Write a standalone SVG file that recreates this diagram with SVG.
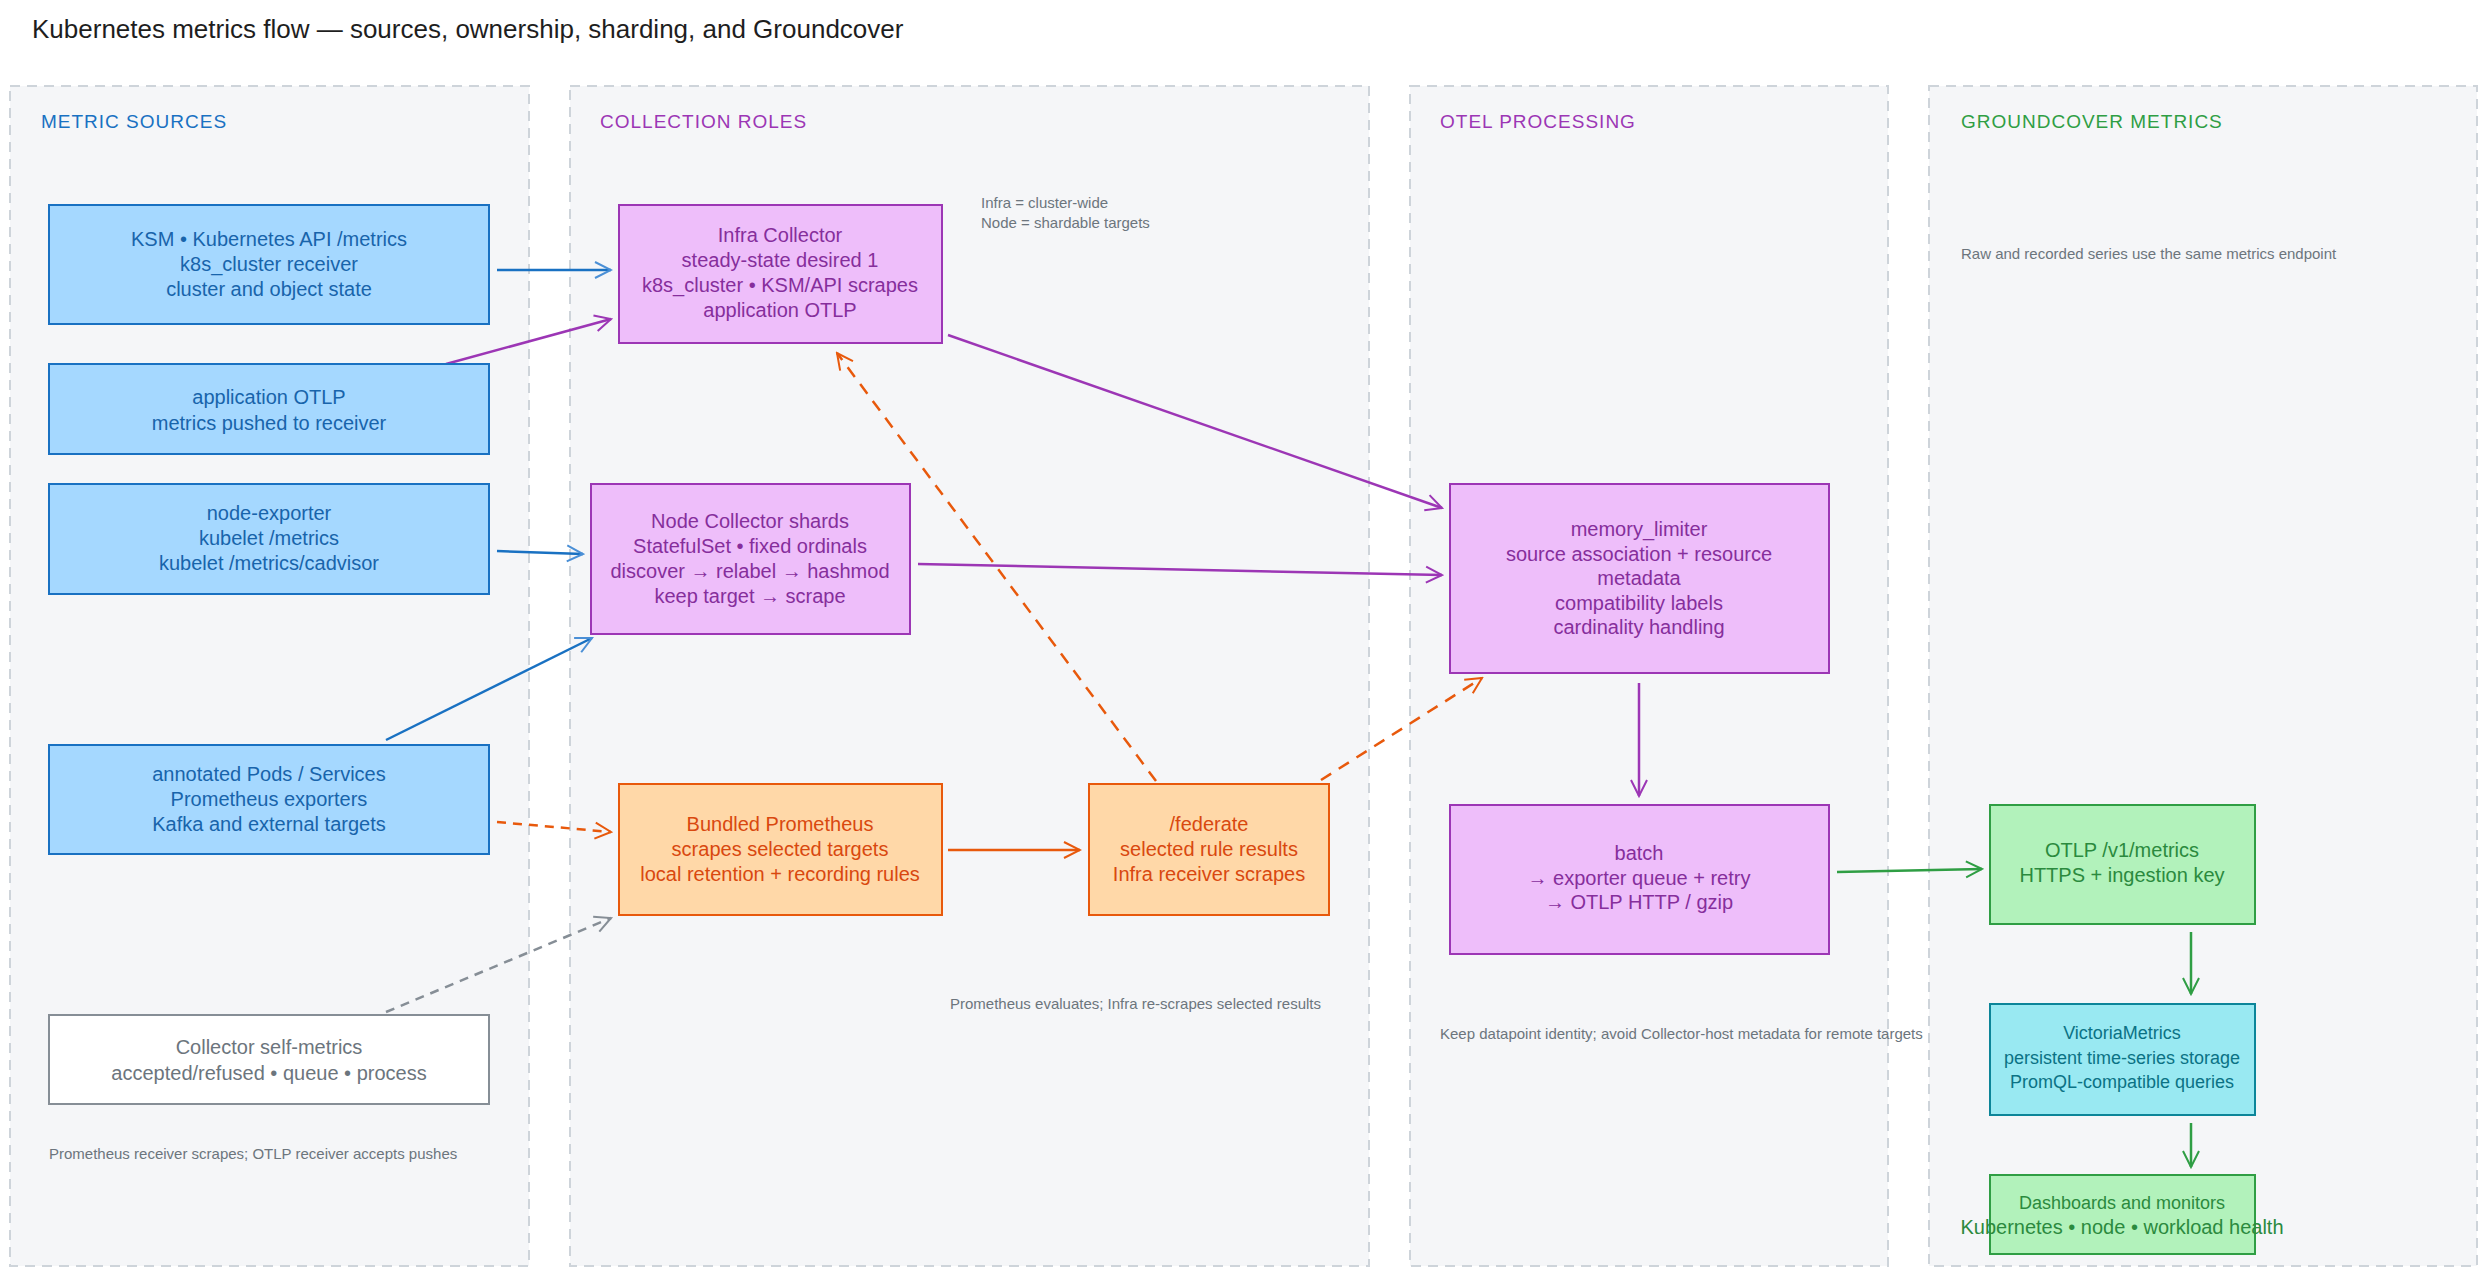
<svg xmlns="http://www.w3.org/2000/svg" width="2490" height="1275" viewBox="0 0 2490 1275">
<style>
text{font-family:"Liberation Sans",Arial,sans-serif}
.lane{fill:#f5f6f8;stroke:#ced4da;stroke-width:2;stroke-dasharray:10 7}
.lt{font-size:19px;letter-spacing:1px}
.nt{font-size:20px;text-anchor:middle}
.sm{font-size:18px}
.note{font-size:15px;fill:#6c757d}
.b rect{fill:#a5d8ff;stroke:#1971c2;stroke-width:2}.b text{fill:#1864ab}
.p rect{fill:#eebefa;stroke:#9c36b5;stroke-width:2}.p text{fill:#862e9c}
.o rect{fill:#ffd8a8;stroke:#e8590c;stroke-width:2}.o text{fill:#d9480f}
.g rect{fill:#b2f2bb;stroke:#2f9e44;stroke-width:2}.g text{fill:#2b8a3e}
.c rect{fill:#99e9f2;stroke:#0c8599;stroke-width:2}.c text{fill:#0b7285}
.w rect{fill:#fff;stroke:#868e96;stroke-width:2}.w text{fill:#6c757d}
#edges path{fill:none;stroke-width:2.5}
</style>
<defs>
<marker id="mb" viewBox="0 0 20 20" refX="18" refY="10" markerWidth="20" markerHeight="20" markerUnits="userSpaceOnUse" orient="auto"><path d="M2 2L18 10L2 18" fill="none" stroke="#4a8fd6" stroke-width="2"/></marker>
<marker id="mp" viewBox="0 0 20 20" refX="18" refY="10" markerWidth="20" markerHeight="20" markerUnits="userSpaceOnUse" orient="auto"><path d="M2 2L18 10L2 18" fill="none" stroke="#9c36b5" stroke-width="2"/></marker>
<marker id="mo" viewBox="0 0 20 20" refX="18" refY="10" markerWidth="20" markerHeight="20" markerUnits="userSpaceOnUse" orient="auto"><path d="M2 2L18 10L2 18" fill="none" stroke="#e8590c" stroke-width="2"/></marker>
<marker id="mgr" viewBox="0 0 20 20" refX="18" refY="10" markerWidth="20" markerHeight="20" markerUnits="userSpaceOnUse" orient="auto"><path d="M2 2L18 10L2 18" fill="none" stroke="#868e96" stroke-width="2"/></marker>
<marker id="mg" viewBox="0 0 20 20" refX="18" refY="10" markerWidth="20" markerHeight="20" markerUnits="userSpaceOnUse" orient="auto"><path d="M2 2L18 10L2 18" fill="none" stroke="#2f9e44" stroke-width="2"/></marker>
</defs>
<rect width="2490" height="1275" fill="#fff"/>
<text x="32" y="38" font-size="26" fill="#1e1e1e">Kubernetes metrics flow — sources, ownership, sharding, and Groundcover</text>

<g id="lanes">
<rect class="lane" x="10" y="86" width="519" height="1180"/>
<rect class="lane" x="570" y="86" width="799" height="1180"/>
<rect class="lane" x="1410" y="86" width="478" height="1180"/>
<rect class="lane" x="1929" y="86" width="548" height="1180"/>
<text class="lt" x="41" y="128" fill="#1971c2">METRIC SOURCES</text>
<text class="lt" x="600" y="128" fill="#9c36b5">COLLECTION ROLES</text>
<text class="lt" x="1440" y="128" fill="#9c36b5">OTEL PROCESSING</text>
<text class="lt" x="1961" y="128" fill="#2f9e44">GROUNDCOVER METRICS</text>
</g>

<g id="notes">
<text class="note" x="981" y="208">Infra = cluster-wide</text>
<text class="note" x="981" y="228">Node = shardable targets</text>
<text class="note" x="1961" y="259">Raw and recorded series use the same metrics endpoint</text>
<text class="note" x="950" y="1009">Prometheus evaluates; Infra re-scrapes selected results</text>
<text class="note" x="1440" y="1039">Keep datapoint identity; avoid Collector-host metadata for remote targets</text>
<text class="note" x="49" y="1159">Prometheus receiver scrapes; OTLP receiver accepts pushes</text>
</g>

<g id="edges">
<path d="M497 270L611 270" stroke="#1971c2" marker-end="url(#mb)"/>
<path d="M446 364L611 319" stroke="#9c36b5" marker-end="url(#mp)"/>
<path d="M497 551L583 554" stroke="#1971c2" marker-end="url(#mb)"/>
<path d="M386 740L592 638" stroke="#1971c2" marker-end="url(#mb)"/>
<path d="M497 822L611 832" stroke="#e8590c" stroke-dasharray="9 7" marker-end="url(#mo)"/>
<path d="M386 1012L611 918" stroke="#868e96" stroke-dasharray="9 7" marker-end="url(#mgr)"/>
<path d="M948 850L1080 850" stroke="#e8590c" marker-end="url(#mo)"/>
<path d="M1156 781L837 353" stroke="#e8590c" stroke-dasharray="12 9" marker-end="url(#mo)"/>
<path d="M1321 780L1482 678" stroke="#e8590c" stroke-dasharray="12 9" marker-end="url(#mo)"/>
<path d="M948 335L1442 508" stroke="#9c36b5" marker-end="url(#mp)"/>
<path d="M918 564L1442 575" stroke="#9c36b5" marker-end="url(#mp)"/>
<path d="M1639 683L1639 796" stroke="#9c36b5" marker-end="url(#mp)"/>
<path d="M1837 872L1982 869" stroke="#2f9e44" marker-end="url(#mg)"/>
<path d="M2191 932L2191 994" stroke="#2f9e44" marker-end="url(#mg)"/>
<path d="M2191 1123L2191 1167" stroke="#2f9e44" marker-end="url(#mg)"/>
</g>

<g id="ksm" class="b"><rect x="49" y="205" width="440" height="119"/>
<text class="nt" x="269" y="246">KSM • Kubernetes API /metrics</text><text class="nt" x="269" y="271">k8s_cluster receiver</text><text class="nt" x="269" y="296">cluster and object state</text></g>
<g id="appotlp" class="b"><rect x="49" y="364" width="440" height="90"/>
<text class="nt" x="269" y="404">application OTLP</text><text class="nt" x="269" y="430">metrics pushed to receiver</text></g>
<g id="nodeexp" class="b"><rect x="49" y="484" width="440" height="110"/>
<text class="nt" x="269" y="520">node-exporter</text><text class="nt" x="269" y="545">kubelet /metrics</text><text class="nt" x="269" y="570">kubelet /metrics/cadvisor</text></g>
<g id="annot" class="b"><rect x="49" y="745" width="440" height="109"/>
<text class="nt" x="269" y="781">annotated Pods / Services</text><text class="nt" x="269" y="806">Prometheus exporters</text><text class="nt" x="269" y="831">Kafka and external targets</text></g>
<g id="self" class="w"><rect x="49" y="1015" width="440" height="89"/>
<text class="nt" x="269" y="1054">Collector self-metrics</text><text class="nt" x="269" y="1080">accepted/refused • queue • process</text></g>

<g id="infra" class="p"><rect x="619" y="205" width="323" height="138"/>
<text class="nt" x="780" y="242">Infra Collector</text><text class="nt" x="780" y="267">steady-state desired 1</text><text class="nt" x="780" y="292">k8s_cluster • KSM/API scrapes</text><text class="nt" x="780" y="317">application OTLP</text></g>
<g id="nodecol" class="p"><rect x="591" y="484" width="319" height="150"/>
<text class="nt" x="750" y="528">Node Collector shards</text><text class="nt" x="750" y="553">StatefulSet • fixed ordinals</text><text class="nt" x="750" y="578">discover → relabel → hashmod</text><text class="nt" x="750" y="603">keep target → scrape</text></g>
<g id="prom" class="o"><rect x="619" y="784" width="323" height="131"/>
<text class="nt" x="780" y="831">Bundled Prometheus</text><text class="nt" x="780" y="856">scrapes selected targets</text><text class="nt" x="780" y="881">local retention + recording rules</text></g>
<g id="federate" class="o"><rect x="1089" y="784" width="240" height="131"/>
<text class="nt" x="1209" y="831">/federate</text><text class="nt" x="1209" y="856">selected rule results</text><text class="nt" x="1209" y="881">Infra receiver scrapes</text></g>

<g id="memlim" class="p"><rect x="1450" y="484" width="379" height="189"/>
<text class="nt" x="1639" y="536">memory_limiter</text><text class="nt" x="1639" y="561">source association + resource</text><text class="nt" x="1639" y="585">metadata</text><text class="nt" x="1639" y="610">compatibility labels</text><text class="nt" x="1639" y="634">cardinality handling</text></g>
<g id="batch" class="p"><rect x="1450" y="805" width="379" height="149"/>
<text class="nt" x="1639" y="860">batch</text><text class="nt" x="1639" y="885">→ exporter queue + retry</text><text class="nt" x="1639" y="909">→ OTLP HTTP / gzip</text></g>

<g id="otlpv1" class="g"><rect x="1990" y="805" width="265" height="119"/>
<text class="nt" x="2122" y="857">OTLP /v1/metrics</text><text class="nt" x="2122" y="882">HTTPS + ingestion key</text></g>
<g id="victoria" class="c"><rect x="1990" y="1004" width="265" height="111"/>
<text class="nt sm" x="2122" y="1039">VictoriaMetrics</text><text class="nt sm" x="2122" y="1064">persistent time-series storage</text><text class="nt sm" x="2122" y="1088">PromQL-compatible queries</text></g>
<g id="dash" class="g"><rect x="1990" y="1175" width="265" height="79"/>
<text class="nt sm" x="2122" y="1209">Dashboards and monitors</text><text class="nt" x="2122" y="1234" font-size="16">Kubernetes • node • workload health</text></g>
</svg>
